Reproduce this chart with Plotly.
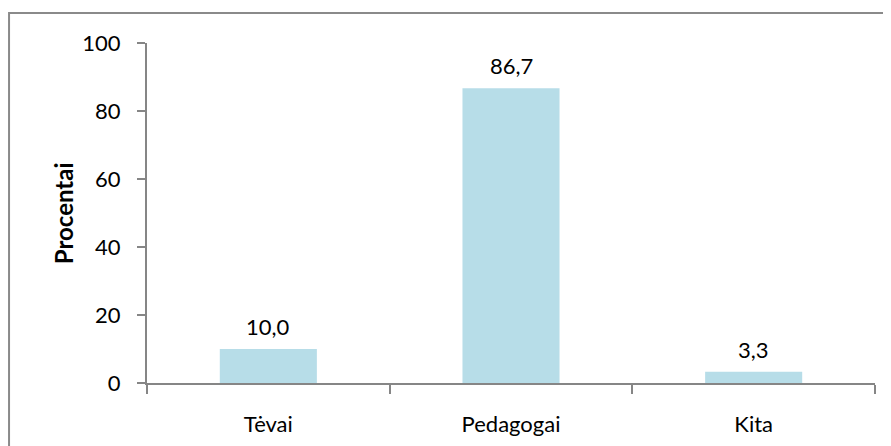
import plotly.graph_objects as go

categories = ["Tėvai", "Pedagogai", "Kita"]
values = [10.0, 86.7, 3.3]
y_ticks = [0, 20, 40, 60, 80, 100]

BAR = "#b7dde8"
AXIS = "#868686"
FONT = "Lato, 'Open Sans', sans-serif"

fig = go.Figure()
fig.add_trace(go.Bar(
    x=categories,
    y=values,
    marker=dict(color=BAR, line=dict(width=0)),
    width=0.4,
    hoverinfo="skip",
))

# value labels above the bars
for c, v in zip(categories, values):
    fig.add_annotation(
        x=c, y=v, text=f"{v:.1f}".replace(".", ","),
        showarrow=False, yanchor="bottom", yshift=7,
        font=dict(family=FONT, size=22, color="#000000"),
    )

# axis title
fig.add_annotation(
    xref="paper", yref="paper", x=-0.115, y=0.5,
    xanchor="center", yanchor="middle",
    text="<b>Procentai</b>", textangle=-90, showarrow=False,
    font=dict(family=FONT, size=24, color="#000000"),
)

# outer chart border (right and bottom edges fall outside the window)
fig.add_shape(
    type="rect", xref="paper", yref="paper",
    x0=-0.1895, x1=1.1, y0=-0.4, y1=1.088,
    line=dict(color="#8a8a8a", width=2), layer="below",
)

# page body has an 8px margin, so margins are offset by that
fig.update_layout(
    width=891, height=446,
    margin=dict(l=139, r=24, t=35, b=71),
    paper_bgcolor="white", plot_bgcolor="white",
    showlegend=False,
    font=dict(family=FONT, size=22, color="#000000"),
)
fig.update_xaxes(
    type="category",
    showline=True, linecolor=AXIS, linewidth=2,
    ticks="outside", tickson="boundaries", ticklen=9, tickwidth=2, tickcolor=AXIS,
    ticklabelstandoff=21,
    showgrid=False, zeroline=False,
)
fig.update_yaxes(
    range=[0, 100], tickvals=y_ticks,
    showline=True, linecolor=AXIS, linewidth=2,
    ticks="outside", ticklen=8, tickwidth=2, tickcolor=AXIS,
    ticklabelstandoff=12,
    showgrid=False, zeroline=False,
)

fig.write_html("out.html")
